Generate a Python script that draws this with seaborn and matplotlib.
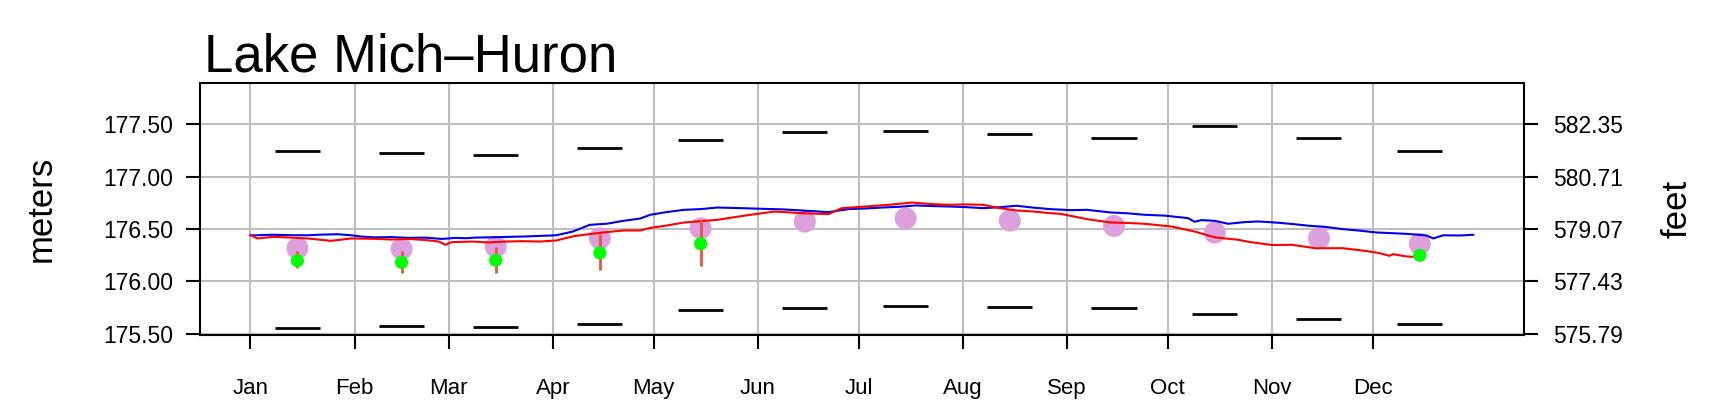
import numpy as np
import matplotlib
matplotlib.use("Agg")
import matplotlib.pyplot as plt
import seaborn as sns

# --- data (meters) ---
months = ["Jan", "Feb", "Mar", "Apr", "May", "Jun", "Jul", "Aug", "Sep", "Oct", "Nov", "Dec"]
month_start = [0, 31, 59, 90, 120, 151, 181, 212, 243, 273, 304, 334]

rec_max = [177.248, 177.229, 177.210, 177.274, 177.350, 177.426, 177.436, 177.410, 177.372, 177.487, 177.372, 177.245]
rec_min = [175.557, 175.574, 175.564, 175.596, 175.729, 175.745, 175.765, 175.755, 175.745, 175.691, 175.640, 175.593]
lt_mean = [176.316, 176.309, 176.331, 176.411, 176.507, 176.570, 176.602, 176.580, 176.529, 176.465, 176.411, 176.357]

# forecast months (index into months), value and range
fc_month = [0, 1, 2, 3, 4, 11]
fc_value = [176.197, 176.182, 176.201, 176.271, 176.360, 176.249]
fc_low = [176.130, 176.083, 176.083, 176.108, 176.150, 176.249]
fc_high = [176.290, 176.290, 176.331, 176.452, 176.586, 176.249]

# last year (blue) daily levels, day of year
prev_day = [0, 4, 7, 12, 17, 21, 26, 30, 33, 37, 42, 47, 52, 57, 61, 64, 67, 72, 77, 82, 87,
            91, 96, 101, 106, 111, 116, 119, 124, 129, 134, 139, 145, 152, 158, 164, 172, 178,
            183, 188, 193, 198, 203, 208, 213, 218, 223, 228, 233, 238, 244, 249, 256, 261,
            266, 272, 279, 281, 283, 287, 291, 296, 300, 305, 310, 315, 320, 325, 330, 335,
            340, 345, 350, 352, 355, 360, 364]
prev_lvl = [176.438, 176.443, 176.445, 176.441, 176.440, 176.446, 176.450, 176.440, 176.428,
            176.420, 176.423, 176.415, 176.418, 176.405, 176.415, 176.412, 176.418, 176.421,
            176.425, 176.429, 176.435, 176.440, 176.476, 176.540, 176.550, 176.578, 176.600,
            176.636, 176.662, 176.683, 176.690, 176.705, 176.700, 176.693, 176.688, 176.677,
            176.661, 176.690, 176.696, 176.705, 176.712, 176.725, 176.719, 176.715, 176.709,
            176.699, 176.708, 176.722, 176.704, 176.690, 176.680, 176.683, 176.658, 176.650,
            176.636, 176.628, 176.604, 176.569, 176.585, 176.578, 176.550, 176.566, 176.572,
            176.562, 176.548, 176.531, 176.520, 176.499, 176.485, 176.467, 176.460, 176.452,
            176.438, 176.410, 176.440, 176.438, 176.445]

# this year (red) daily levels
cur_day = [0, 2, 7, 12, 17, 24, 30, 37, 42, 47, 52, 56, 58, 60, 66, 71, 76, 81, 86, 91, 96,
           101, 106, 111, 116, 119, 124, 129, 134, 139, 148, 156, 164, 172, 176, 183, 190, 197,
           203, 208, 213, 218, 223, 228, 233, 238, 241, 245, 249, 256, 261, 266, 274, 281,
           287, 294, 297, 304, 310, 317, 325, 330, 335, 337, 339, 340, 344, 348]
cur_lvl = [176.445, 176.410, 176.425, 176.418, 176.410, 176.387, 176.410, 176.406, 176.400,
           176.405, 176.395, 176.381, 176.350, 176.375, 176.380, 176.372, 176.380, 176.384,
           176.380, 176.390, 176.430, 176.452, 176.470, 176.486, 176.486, 176.510, 176.534,
           176.562, 176.575, 176.588, 176.632, 176.667, 176.651, 176.642, 176.699, 176.715,
           176.731, 176.753, 176.737, 176.731, 176.735, 176.731, 176.699, 176.677, 176.667,
           176.651, 176.645, 176.620, 176.594, 176.562, 176.558, 176.550, 176.524, 176.476,
           176.420, 176.397, 176.378, 176.347, 176.349, 176.316, 176.317, 176.298, 176.276,
           176.261, 176.244, 176.260, 176.238, 176.231]

y_ticks = [175.5, 176.0, 176.5, 177.0, 177.5]
M2FT = 3.28084

# %%
sns.set_style("white")
plt.rcParams["font.family"] = ["Liberation Sans", "DejaVu Sans"]
plt.rcParams["text.color"] = "black"
plt.rcParams["xtick.color"] = "black"
plt.rcParams["ytick.color"] = "black"

fig = plt.figure(figsize=(17.15, 4.18), dpi=100)
ax = fig.add_axes([0.1166, 0.1986, 0.7720, 0.6028])

mid = np.array(month_start) + 14

ax.grid(True, color="#bebebe", lw=1.5)
ax.set_axisbelow(True)

sns.scatterplot(x=mid, y=lt_mean, color="#dda0dd", s=250, edgecolor="none", ax=ax, zorder=2)
sns.lineplot(x=prev_day, y=prev_lvl, color="#0000ee", lw=1.5, estimator=None, ax=ax, zorder=3)
sns.lineplot(x=cur_day, y=cur_lvl, color="#ff0000", lw=1.5, estimator=None, ax=ax, zorder=3)

ax.hlines(rec_max, mid - 6.7, mid + 6.7, color="black", lw=2, zorder=3)
ax.hlines(rec_min, mid - 6.7, mid + 6.7, color="black", lw=2, zorder=3)

fc_x = mid[fc_month]
ax.vlines(fc_x, fc_low, fc_high, color="#e8553f", lw=2, zorder=4)
sns.scatterplot(x=fc_x, y=fc_value, color="#00ff00", s=90, edgecolor="none", ax=ax, zorder=5)

ax.set_xlim(-15, 379)
ax.set_ylim(175.488, 177.894)
ax.set_xticks(month_start)
ax.set_xticklabels(months, fontsize=16)
ax.set_yticks(y_ticks)
ax.set_yticklabels(["%.2f" % v for v in y_ticks], fontsize=16.5)
ax.tick_params(axis="x", bottom=True, length=10, width=1.5, pad=21, color="black")
ax.tick_params(axis="y", left=True, length=10, width=1.5, pad=9, color="black")
ax.set_xlabel("")
ax.set_ylabel("")
for sp in ax.spines.values():
    sp.set_visible(True)
    sp.set_color("black")
    sp.set_linewidth(1.5)

ax2 = ax.twinx()
ax2.set_ylim(175.488 * M2FT, 177.894 * M2FT)
ax2.set_yticks([v * M2FT for v in y_ticks])
ax2.set_yticklabels(["%.2f" % (v * M2FT) for v in y_ticks], fontsize=16.5)
ax2.tick_params(axis="y", right=True, length=10, width=1.5, pad=11, color="black")
for sp in ax2.spines.values():
    sp.set_visible(False)

fig.text(0.119, 0.8278, "Lake Mich\u2013Huron", fontsize=38, ha="left", va="baseline")
fig.text(0.024, 0.5, "meters", fontsize=25, rotation=90, ha="center", va="center")
fig.text(0.978, 0.5, "feet", fontsize=25, rotation=90, ha="center", va="center")

fig.savefig("out.png", dpi=100)
